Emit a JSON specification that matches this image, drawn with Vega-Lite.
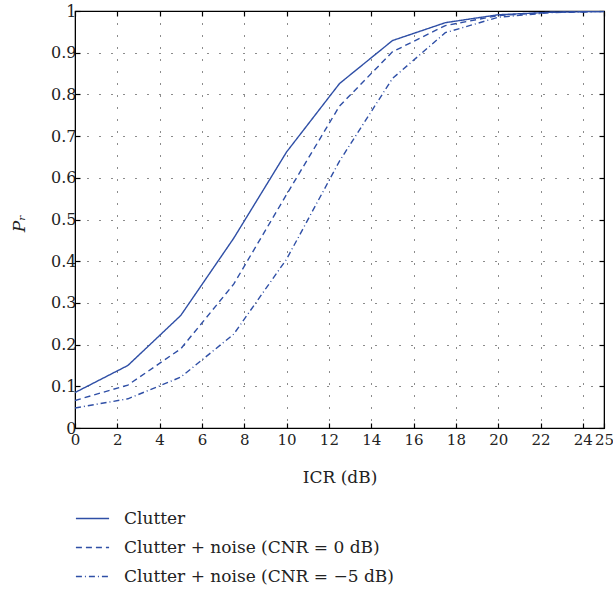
{
  "$schema": "https://vega.github.io/schema/vega-lite/v6.json",
  "autosize": "none",
  "width": 529,
  "height": 417,
  "padding": {"left": 75, "top": 11, "right": 9, "bottom": 161},
  "background": "white",
  "config": {
    "font": "DejaVu Serif",
    "view": {"stroke": "black", "strokeWidth": 1.2},
    "axis": {
      "labelFont": "DejaVu Serif",
      "titleFont": "DejaVu Serif",
      "labelColor": "#222",
      "titleColor": "#222",
      "labelFontSize": 16,
      "titleFontSize": 17,
      "titleFontWeight": "normal",
      "domainColor": "black",
      "tickColor": "black",
      "tickSize": -5,
      "tickWidth": 1.2,
      "grid": true,
      "gridColor": "black",
      "gridDash": [1, 11],
      "gridWidth": 1,
      "gridOpacity": 0.9
    }
  },
  "data": {
    "values": [
      {"icr": 0, "pr": 0.085, "s": "Clutter"},
      {"icr": 2.5, "pr": 0.15, "s": "Clutter"},
      {"icr": 5, "pr": 0.27, "s": "Clutter"},
      {"icr": 7.5, "pr": 0.455, "s": "Clutter"},
      {"icr": 10, "pr": 0.662, "s": "Clutter"},
      {"icr": 12.5, "pr": 0.826, "s": "Clutter"},
      {"icr": 15, "pr": 0.929, "s": "Clutter"},
      {"icr": 17.5, "pr": 0.972, "s": "Clutter"},
      {"icr": 20, "pr": 0.991, "s": "Clutter"},
      {"icr": 22.5, "pr": 0.997, "s": "Clutter"},
      {"icr": 25, "pr": 0.999, "s": "Clutter"},
      {"icr": 0, "pr": 0.066, "s": "Clutter + noise (CNR = 0 dB)"},
      {"icr": 2.5, "pr": 0.103, "s": "Clutter + noise (CNR = 0 dB)"},
      {"icr": 5, "pr": 0.19, "s": "Clutter + noise (CNR = 0 dB)"},
      {"icr": 7.5, "pr": 0.345, "s": "Clutter + noise (CNR = 0 dB)"},
      {"icr": 10, "pr": 0.56, "s": "Clutter + noise (CNR = 0 dB)"},
      {"icr": 12.5, "pr": 0.772, "s": "Clutter + noise (CNR = 0 dB)"},
      {"icr": 15, "pr": 0.902, "s": "Clutter + noise (CNR = 0 dB)"},
      {"icr": 17.5, "pr": 0.965, "s": "Clutter + noise (CNR = 0 dB)"},
      {"icr": 20, "pr": 0.989, "s": "Clutter + noise (CNR = 0 dB)"},
      {"icr": 22.5, "pr": 0.997, "s": "Clutter + noise (CNR = 0 dB)"},
      {"icr": 25, "pr": 0.999, "s": "Clutter + noise (CNR = 0 dB)"},
      {"icr": 0, "pr": 0.048, "s": "Clutter + noise (CNR = −5 dB)"},
      {"icr": 2.5, "pr": 0.07, "s": "Clutter + noise (CNR = −5 dB)"},
      {"icr": 5, "pr": 0.122, "s": "Clutter + noise (CNR = −5 dB)"},
      {"icr": 7.5, "pr": 0.225, "s": "Clutter + noise (CNR = −5 dB)"},
      {"icr": 10, "pr": 0.405, "s": "Clutter + noise (CNR = −5 dB)"},
      {"icr": 12.5, "pr": 0.64, "s": "Clutter + noise (CNR = −5 dB)"},
      {"icr": 15, "pr": 0.838, "s": "Clutter + noise (CNR = −5 dB)"},
      {"icr": 17.5, "pr": 0.948, "s": "Clutter + noise (CNR = −5 dB)"},
      {"icr": 20, "pr": 0.985, "s": "Clutter + noise (CNR = −5 dB)"},
      {"icr": 22.5, "pr": 0.996, "s": "Clutter + noise (CNR = −5 dB)"},
      {"icr": 25, "pr": 0.999, "s": "Clutter + noise (CNR = −5 dB)"}
    ]
  },
  "layer": [
    {
      "mark": {"type": "line", "color": "#2f4fa6", "strokeWidth": 1.4, "clip": true},
      "encoding": {
        "x": {
          "field": "icr", "type": "quantitative",
          "scale": {"domain": [0, 25], "nice": false, "zero": false},
          "axis": {
            "title": "ICR (dB)",
            "values": [0, 2, 4, 6, 8, 10, 12, 14, 16, 18, 20, 22, 24, 25],
            "labelFontSize": 15,
            "labelPadding": 9,
            "titlePadding": 22,
            "labelFlush": false,
            "labelOverlap": false
          }
        },
        "y": {
          "field": "pr", "type": "quantitative",
          "scale": {"domain": [0, 1], "nice": false},
          "axis": {
            "title": "Pᵣ",
            "format": "~g",
            "titleFontStyle": "italic",
            "titleX": -47,
            "titleY": 212,
            "titleAngle": -90,
            "values": [0, 0.1, 0.2, 0.3, 0.4, 0.5, 0.6, 0.7, 0.8, 0.9, 1],
            "labelPadding": 4,
            "labelFlush": false,
            "labelOverlap": false
          }
        },
        "strokeDash": {
          "field": "s", "type": "nominal",
          "scale": {
            "domain": ["Clutter", "Clutter + noise (CNR = 0 dB)", "Clutter + noise (CNR = −5 dB)"],
            "range": [[1, 0], [6, 4], [6, 3, 1, 3]]
          },
          "legend": {
            "title": null,
            "orient": "none",
            "legendX": 0,
            "legendY": 490,
            "direction": "vertical",
            "symbolType": "stroke",
            "symbolSize": 1100,
            "symbolStrokeColor": "#2f4fa6",
            "symbolStrokeWidth": 1.4,
            "labelFont": "DejaVu Serif",
            "labelFontSize": 17,
            "labelColor": "#222",
            "labelOffset": 14,
            "rowPadding": 3,
            "labelLimit": 500
          }
        }
      }
    },
    {
      "mark": {"type": "point", "opacity": 0},
      "encoding": {
        "x": {"field": "icr", "type": "quantitative", "axis": {"orient": "top", "labels": false, "title": null, "grid": false, "values": [0, 2, 4, 6, 8, 10, 12, 14, 16, 18, 20, 22, 24, 25]}},
        "y": {"field": "pr", "type": "quantitative", "axis": {"orient": "right", "labels": false, "title": null, "grid": false, "values": [0, 0.1, 0.2, 0.3, 0.4, 0.5, 0.6, 0.7, 0.8, 0.9, 1]}}
      }
    }
  ],
  "resolve": {"axis": {"x": "independent", "y": "independent"}}
}
